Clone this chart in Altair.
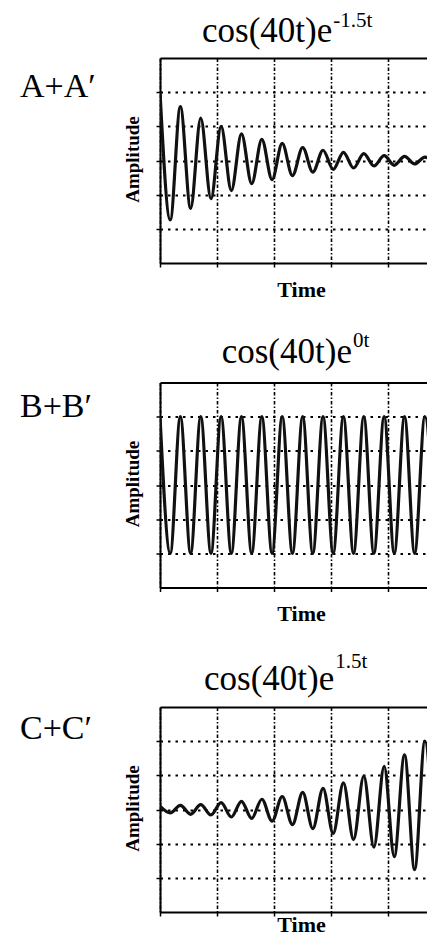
import altair as alt
import pandas as pd

# extrema of the oscillation (time in s, amplitude)
times = [0.000, 0.079, 0.157, 0.236, 0.314, 0.393, 0.471, 0.550, 0.628, 0.707,
         0.785, 0.864, 0.942, 1.021, 1.100, 1.178, 1.257, 1.335, 1.414, 1.492,
         1.571, 1.649, 1.728, 1.806, 1.885, 1.963, 2.042, 2.120]
amp_a = [1.00, -0.87, 0.79, -0.70, 0.62, -0.56, 0.50, -0.44, 0.39, -0.34,
         0.31, -0.28, 0.25, -0.22, 0.19, -0.17, 0.15, -0.13, 0.12, -0.11,
         0.10, -0.08, 0.07, -0.07, 0.06, -0.05, 0.05, -0.04]
amp_b = [1.00, -1.00, 1.00, -1.00, 1.00, -1.00, 1.00, -1.00, 1.00, -1.00,
         1.00, -1.00, 1.00, -1.00, 1.00, -1.00, 1.00, -1.00, 1.00, -1.00,
         1.00, -1.00, 1.00, -1.00, 1.00, -1.00, 1.00, -1.00]
amp_c = [0.05, -0.05, 0.06, -0.07, 0.07, -0.08, 0.10, -0.11, 0.12, -0.13,
         0.15, -0.17, 0.19, -0.22, 0.25, -0.28, 0.31, -0.35, 0.39, -0.44,
         0.49, -0.55, 0.63, -0.69, 0.80, -0.88, 1.00, -1.13]

panel_labels = ["A+A\u2032", "B+B\u2032", "C+C\u2032"]
title_base = "cos(40t)e"
title_exps = ["-1.5t", "0t", "1.5t"]
x_ticks = [0, 0.44, 0.88, 1.32, 1.76]
y_ticks = [-1, -0.5, 0, 0.5, 1]

FONT = "Liberation Serif"
W, H = 275, 205
TITLE_FS = 35
SUP_FS = 21
MAIN_W = 3.721 * TITLE_FS

# layout of the texts of each panel (relative to the plot area)
lab_y = [38.7, 34.8, 32.0]
title_x = [42, 61.7, 44]
title_y = [-16.3, -20.0, -17.0]
sup_y = [-31, -35.5, -39]
time_y = [33, 33, 19]


def panel(i, vals):
    df = pd.DataFrame({"t": times, "a": vals})
    one = pd.DataFrame({"k": [0]})
    xs = alt.Scale(domain=[0, 2.12], nice=False, zero=False)
    ys = alt.Scale(domain=[-1.5, 1.5], nice=False, zero=False)
    line = alt.Chart(df).mark_line(
        interpolate="monotone", color="#111111", strokeWidth=3.2, clip=True
    ).encode(
        x=alt.X("t:Q", scale=xs, axis=alt.Axis(
            orient="bottom", values=x_ticks, labels=False, ticks=True,
            tickSize=4, tickWidth=1.5, tickColor="black",
            domainColor="black", domainWidth=2,
            grid=True, gridColor="black", gridDash=[3.5, 2, 1.5, 2],
            gridWidth=1.6, gridOpacity=1,
            title="Time", titleFont=FONT, titleFontSize=22,
            titleFontWeight="bold", titleColor="black",
            titleX=141, titleY=time_y[i], titleBaseline="alphabetic",
            titleAlign="center")),
        y=alt.Y("a:Q", scale=ys, axis=alt.Axis(
            orient="left", values=y_ticks, labels=False, ticks=True,
            tickSize=4, tickWidth=1.5, tickColor="black",
            domainColor="black", domainWidth=2,
            grid=True, gridColor="black", gridDash=[2.5, 5],
            gridWidth=1.8, gridOpacity=1,
            title="Amplitude", titleFont=FONT, titleFontSize=19,
            titleFontWeight="bold", titleColor="black",
            titleAngle=270, titleX=-28, titleY=101,
            titleAlign="center", titleBaseline="middle")),
    )
    top = alt.Chart(df).mark_rule(opacity=0).encode(
        x=alt.X("t:Q", scale=xs, axis=alt.Axis(
            orient="top", labels=False, ticks=False, grid=False, title="",
            domainColor="black", domainWidth=2)),
    )
    lab = alt.Chart(one).mark_text(
        text=panel_labels[i], font=FONT, fontSize=34, align="left",
        baseline="alphabetic", color="black"
    ).encode(x=alt.value(-140), y=alt.value(lab_y[i]))
    ttl = alt.Chart(one).mark_text(
        text=title_base, font=FONT, fontSize=TITLE_FS, align="left",
        baseline="alphabetic", color="black"
    ).encode(x=alt.value(title_x[i]), y=alt.value(title_y[i]))
    sup = alt.Chart(one).mark_text(
        text=title_exps[i], font=FONT, fontSize=SUP_FS, align="left",
        baseline="alphabetic", color="black"
    ).encode(x=alt.value(title_x[i] + MAIN_W + 1), y=alt.value(sup_y[i]))
    return alt.layer(line, top, lab, ttl, sup).resolve_axis(x="independent").properties(
        width=W, height=H)


chart = alt.vconcat(
    panel(0, amp_a), panel(1, amp_b), panel(2, amp_c),
    spacing=119.5, bounds="flush"
).properties(
    padding={"left": 12, "top": 2, "right": -8, "bottom": 0},
    background="white",
).configure_view(strokeWidth=0)

chart.save("out.html", embed_options={"renderer": "svg", "actions": False})
